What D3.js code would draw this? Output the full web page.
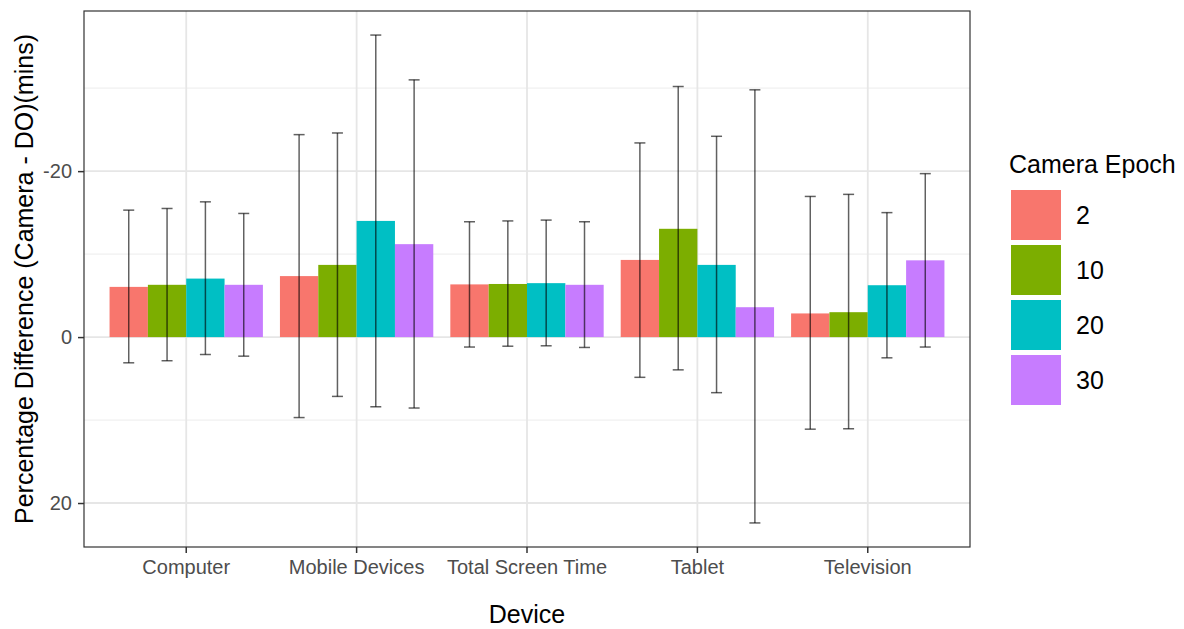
<!DOCTYPE html>
<html>
<head>
<meta charset="utf-8">
<script src="https://cdn.jsdelivr.net/npm/d3@7/dist/d3.min.js"></script>
<style>
  html, body { margin: 0; padding: 0; background: #fff; }
  svg { display: block; font-family: "Liberation Sans", Arial, sans-serif; }
</style>
</head>
<body>
<svg id="chart" width="1184" height="629"></svg>
<script>
"use strict";

const devices = ["Computer", "Mobile Devices", "Total Screen Time", "Tablet", "Television"];
const epochs = ["2", "10", "20", "30"];
const epochColors = ["#F8766D", "#7CAE00", "#00BFC4", "#C77CFF"];

// mean difference per device, one array per epoch (negative = camera above DO)
const meanByEpoch = {
  "2":  [-6.05, -7.35, -6.35, -9.3, -2.85],
  "10": [-6.3, -8.7, -6.4, -13.05, -3.0],
  "20": [-7.05, -14.0, -6.5, -8.7, -6.25],
  "30": [-6.3, -11.2, -6.3, -3.6, -9.25]
};
const lowerByEpoch = {
  "2":  [-15.3, -24.4, -13.9, -23.4, -16.95],
  "10": [-15.5, -24.6, -14.0, -30.2, -17.2],
  "20": [-16.3, -36.4, -14.1, -24.2, -15.0],
  "30": [-14.9, -31.0, -13.9, -29.8, -19.7]
};
const upperByEpoch = {
  "2":  [3.1, 9.7, 1.2, 4.85, 11.1],
  "10": [2.85, 7.15, 1.1, 3.95, 11.05],
  "20": [2.1, 8.4, 1.05, 6.7, 2.5],
  "30": [2.3, 8.55, 1.25, 22.4, 1.2]
};
const majorTicks = [-20, 0, 20];
const minorTicks = [-30, -10, 10];

const panel = { left: 84, right: 970, top: 11, bottom: 547 };
const svg = d3.select("#chart");

// ggplot discrete scale: 0.6 expansion each side; one band per device
const unit = (panel.right - panel.left) / (devices.length + 0.2);
const x = d3.scaleBand().domain(devices).range([panel.left + 0.1 * unit, panel.right - 0.1 * unit]).padding(0);
const inner = d3.scaleBand().domain(epochs).range([0, unit * 0.9]);
const y = d3.scaleLinear().domain([-39.3, 25.3]).range([panel.top, panel.bottom]);

function centerX(d) { return x(d) + x.bandwidth() / 2; }

const rows = [];
epochs.forEach(function eachEpoch(ep, ei) {
  devices.forEach(function eachDevice(dev, di) {
    rows.push({ device: dev, epoch: ep, color: epochColors[ei], mean: meanByEpoch[ep][di], lo: lowerByEpoch[ep][di], hi: upperByEpoch[ep][di] });
  });
});

// grid
const grid = svg.append("g");
grid.selectAll("line.minor").data(minorTicks).join("line").attr("class", "minor")
  .attr("x1", panel.left).attr("x2", panel.right).attr("y1", y).attr("y2", y)
  .attr("stroke", "#f0f0f0").attr("stroke-width", 1.2);
grid.selectAll("line.major").data(majorTicks).join("line").attr("class", "major")
  .attr("x1", panel.left).attr("x2", panel.right).attr("y1", y).attr("y2", y)
  .attr("stroke", "#e6e6e6").attr("stroke-width", 1.8);
grid.selectAll("line.vmajor").data(devices).join("line").attr("class", "vmajor")
  .attr("x1", centerX).attr("x2", centerX).attr("y1", panel.top).attr("y2", panel.bottom)
  .attr("stroke", "#e6e6e6").attr("stroke-width", 1.8);

// bars
const barStart = function barStart(d) { return centerX(d.device) - unit * 0.45 + inner(d.epoch); };
svg.append("g").selectAll("rect").data(rows).join("rect")
  .attr("x", barStart)
  .attr("width", inner.bandwidth())
  .attr("y", function (d) { return Math.min(y(d.mean), y(0)); })
  .attr("height", function (d) { return Math.abs(y(d.mean) - y(0)); })
  .attr("fill", function (d) { return d.color; });

// error bars
const capHalf = 5.5;
const eb = svg.append("g").attr("stroke", "#000").attr("stroke-opacity", 0.62).attr("stroke-width", 1.5);
const ebRows = eb.selectAll("g").data(rows).join("g");
const midX = function (d) { return barStart(d) + inner.bandwidth() / 2; };
ebRows.append("line").attr("x1", midX).attr("x2", midX).attr("y1", function (d) { return y(d.lo); }).attr("y2", function (d) { return y(d.hi); });
ebRows.append("line").attr("x1", function (d) { return midX(d) - capHalf; }).attr("x2", function (d) { return midX(d) + capHalf; }).attr("y1", function (d) { return y(d.lo); }).attr("y2", function (d) { return y(d.lo); });
ebRows.append("line").attr("x1", function (d) { return midX(d) - capHalf; }).attr("x2", function (d) { return midX(d) + capHalf; }).attr("y1", function (d) { return y(d.hi); }).attr("y2", function (d) { return y(d.hi); });

// panel border
svg.append("rect").attr("x", panel.left).attr("y", panel.top)
  .attr("width", panel.right - panel.left).attr("height", panel.bottom - panel.top)
  .attr("fill", "none").attr("stroke", "#333").attr("stroke-width", 1.2);

// axes
const yAxis = svg.append("g").attr("transform", "translate(" + panel.left + ",0)")
  .call(d3.axisLeft(y).tickValues(majorTicks).tickSize(6).tickPadding(6).tickFormat(function (d) { return String(d); }));
yAxis.select(".domain").remove();
yAxis.selectAll(".tick line").attr("stroke", "#333").attr("stroke-width", 1.5);
yAxis.selectAll(".tick text").attr("fill", "#4d4d4d").attr("font-size", 20).attr("font-family", "Liberation Sans, Arial, sans-serif");

const xAxis = svg.append("g").attr("transform", "translate(0," + panel.bottom + ")")
  .call(d3.axisBottom(x).tickSize(6).tickPadding(7));
xAxis.select(".domain").remove();
xAxis.selectAll(".tick line").attr("stroke", "#333").attr("stroke-width", 1.5);
xAxis.selectAll(".tick text").attr("fill", "#4d4d4d").attr("font-size", 20).attr("font-family", "Liberation Sans, Arial, sans-serif");

// titles
svg.append("text").attr("x", (panel.left + panel.right) / 2).attr("y", 623).attr("text-anchor", "middle")
  .attr("font-size", 25).attr("fill", "#000").text("Device");
svg.append("text").attr("transform", "translate(33," + ((panel.top + panel.bottom) / 2) + ") rotate(-90)")
  .attr("text-anchor", "middle").attr("font-size", 25).attr("fill", "#000")
  .text("Percentage Difference (Camera - DO)(mins)");

// legend
const legend = svg.append("g").attr("transform", "translate(1011,0)");
legend.append("text").attr("x", -2).attr("y", 173).attr("font-size", 25).attr("fill", "#000").text("Camera Epoch");
const items = legend.selectAll("g.item").data(epochs).join("g").attr("class", "item")
  .attr("transform", function (d, i) { return "translate(0," + (190 + i * 55) + ")"; });
items.append("rect").attr("width", 50).attr("height", 50).attr("fill", function (d, i) { return epochColors[i]; });
items.append("text").attr("x", 65).attr("y", 34).attr("font-size", 25).attr("fill", "#000").text(function (d) { return d; });
</script>
</body>
</html>
